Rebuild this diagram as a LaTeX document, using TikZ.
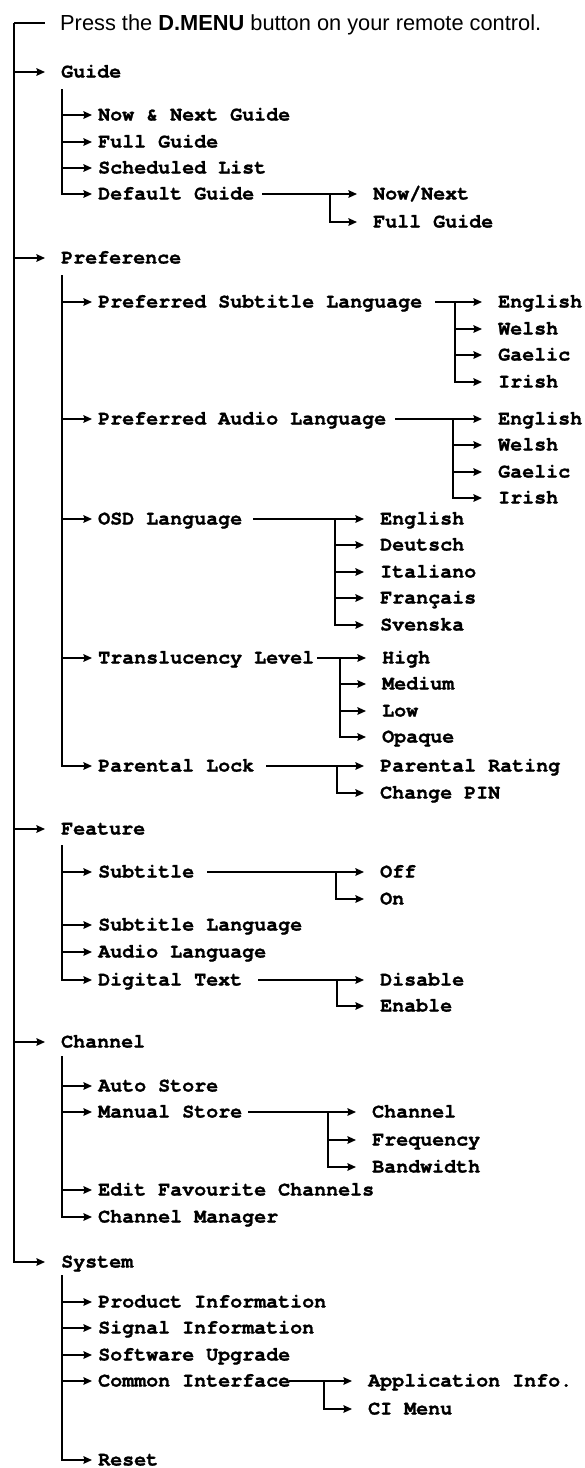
\documentclass[tikz,border=0pt]{standalone}
\usepackage{fontspec}
\setmainfont{Liberation Sans}
\newfontfamily\menufont{texgyrecursor}[Extension=.otf, UprightFont=*-regular, BoldFont=*-bold, Ligatures=NoCommon, BoldFeatures={FakeBold=1.2}]
\usepackage{tikz}
\usetikzlibrary{arrows.meta}

\begin{document}
\begin{tikzpicture}[
  x=1pt, y=-1pt,
  rama/.style={line width=1.8pt},
  flecha/.style={-{Stealth[length=8.5pt,width=7.5pt,inset=1pt]}, line width=1.8pt},
  cab/.style={anchor=west, inner sep=0pt, text height=15pt, text depth=0pt, font=\fontsize{21.8}{24}\selectfont},
  menu/.style={anchor=west, inner ysep=0pt, text height=11pt, text depth=0pt, font=\menufont\bfseries\fontsize{20}{22}\selectfont},
  niv1/.style={menu, inner xsep=16pt},
  niv2/.style={menu, inner xsep=6pt},
  niv3/.style={menu, inner xsep=16pt}
]
  \useasboundingbox (0,0) rectangle (584,1468);

  % cabecera y tronco principal
  \coordinate (t0) at (14,23);
  \node[cab] (cab) at (60,23) {Press the \textbf{D.MENU} button on your remote control.};
  \draw[rama] (t0) -- ([xshift=-15pt]cab.west);

  \node[niv1] (guia) at (45,72) {Guide};
  \node[niv1] (pref) at (45,258) {Preference};
  \node[niv1] (feat) at (45,829) {Feature};
  \node[niv1] (canal) at (45,1042) {Channel};
  \node[niv1] (sist) at (45,1262) {System};
  \draw[flecha] (t0) |- (sist.west);
  \draw[flecha] (t0 |- guia.west) -- (guia.west);
  \draw[flecha] (t0 |- pref.west) -- (pref.west);
  \draw[flecha] (t0 |- feat.west) -- (feat.west);
  \draw[flecha] (t0 |- canal.west) -- (canal.west);

  % Guide
  \coordinate (tguia) at (62,89);
  \node[niv2] (nn) at (92,115) {Now \& Next Guide};
  \node[niv2] (fg) at (92,142) {Full Guide};
  \node[niv2] (sl) at (92,168) {Scheduled List};
  \node[niv2] (dg) at (92,194) {Default Guide};
  \draw[flecha] (tguia) |- (dg.west);
  \draw[flecha] (tguia |- nn.west) -- (nn.west);
  \draw[flecha] (tguia |- fg.west) -- (fg.west);
  \draw[flecha] (tguia |- sl.west) -- (sl.west);

  \coordinate (rdg) at (330,194);
  \node[niv3] (dgnow) at (357,194) {Now/Next};
  \node[niv3] (dgfull) at (357,222) {Full Guide};
  \draw[flecha] ([xshift=2pt]dg.east) -- (dgnow.west);
  \draw[flecha] (rdg) |- (dgfull.west);

  % Preference
  \coordinate (tpref) at (62,275);
  \node[niv2] (psl) at (92,302) {Preferred Subtitle Language};
  \node[niv2] (pal) at (92,419) {Preferred Audio Language};
  \node[niv2] (osd) at (92,519) {OSD Language};
  \node[niv2] (tl) at (92,658) {Translucency Level};
  \node[niv2] (pl) at (92,766) {Parental Lock};
  \draw[flecha] (tpref) |- (pl.west);
  \draw[flecha] (tpref |- psl.west) -- (psl.west);
  \draw[flecha] (tpref |- pal.west) -- (pal.west);
  \draw[flecha] (tpref |- osd.west) -- (osd.west);
  \draw[flecha] (tpref |- tl.west) -- (tl.west);

  \coordinate (rpsl) at (455,302);
  \node[niv3] (pseng) at (482,302) {English};
  \node[niv3] (pswel) at (482,329) {Welsh};
  \node[niv3] (psgae) at (482,355) {Gaelic};
  \node[niv3] (psiri) at (482,382) {Irish};
  \draw[flecha] ([xshift=7pt]psl.east) -- (pseng.west);
  \draw[flecha] (rpsl) |- (psiri.west);
  \draw[flecha] (rpsl |- pswel.west) -- (pswel.west);
  \draw[flecha] (rpsl |- psgae.west) -- (psgae.west);

  \coordinate (rpal) at (453,419);
  \node[niv3] (paeng) at (482,419) {English};
  \node[niv3] (pawel) at (482,445) {Welsh};
  \node[niv3] (pagae) at (482,472) {Gaelic};
  \node[niv3] (pairi) at (482,498) {Irish};
  \draw[flecha] ([xshift=3pt]pal.east) -- (paeng.west);
  \draw[flecha] (rpal) |- (pairi.west);
  \draw[flecha] (rpal |- pawel.west) -- (pawel.west);
  \draw[flecha] (rpal |- pagae.west) -- (pagae.west);

  \coordinate (rosd) at (335,519);
  \node[niv3] (oseng) at (364,519) {English};
  \node[niv3] (osdeu) at (364,545) {Deutsch};
  \node[niv3] (osita) at (364,572) {Italiano};
  \node[niv3] (osfra) at (364,598) {Français};
  \node[niv3] (ossve) at (364,625) {Svenska};
  \draw[flecha] ([xshift=5pt]osd.east) -- (oseng.west);
  \draw[flecha] (rosd) |- (ossve.west);
  \draw[flecha] (rosd |- osdeu.west) -- (osdeu.west);
  \draw[flecha] (rosd |- osita.west) -- (osita.west);
  \draw[flecha] (rosd |- osfra.west) -- (osfra.west);

  \coordinate (rtl) at (340,658);
  \node[niv3] (tlhigh) at (366,658) {High};
  \node[niv3] (tlmed) at (366,684) {Medium};
  \node[niv3] (tllow) at (366,711) {Low};
  \node[niv3] (tlopa) at (366,737) {Opaque};
  \draw[flecha] ([xshift=-3pt]tl.east) -- (tlhigh.west);
  \draw[flecha] (rtl) |- (tlopa.west);
  \draw[flecha] (rtl |- tlmed.west) -- (tlmed.west);
  \draw[flecha] (rtl |- tllow.west) -- (tllow.west);

  \coordinate (rpl) at (337,766);
  \node[niv3] (plrat) at (364,766) {Parental Rating};
  \node[niv3] (plpin) at (364,793) {Change PIN};
  \draw[flecha] ([xshift=6pt]pl.east) -- (plrat.west);
  \draw[flecha] (rpl) |- (plpin.west);

  % Feature
  \coordinate (tfeat) at (62,845);
  \node[niv2] (sub) at (92,872) {Subtitle};
  \node[niv2] (subl) at (92,925) {Subtitle Language};
  \node[niv2] (audl) at (92,952) {Audio Language};
  \node[niv2] (dt) at (92,980) {Digital Text};
  \draw[flecha] (tfeat) |- (dt.west);
  \draw[flecha] (tfeat |- sub.west) -- (sub.west);
  \draw[flecha] (tfeat |- subl.west) -- (subl.west);
  \draw[flecha] (tfeat |- audl.west) -- (audl.west);

  \coordinate (rsub) at (336,872);
  \node[niv3] (suboff) at (364,872) {Off};
  \node[niv3] (subon) at (364,899) {On};
  \draw[flecha] ([xshift=7pt]sub.east) -- (suboff.west);
  \draw[flecha] (rsub) |- (subon.west);

  \coordinate (rdt) at (337,980);
  \node[niv3] (dtdis) at (364,980) {Disable};
  \node[niv3] (dtena) at (364,1006) {Enable};
  \draw[flecha] ([xshift=10pt]dt.east) -- (dtdis.west);
  \draw[flecha] (rdt) |- (dtena.west);

  % Channel
  \coordinate (tcan) at (62,1056);
  \node[niv2] (as) at (92,1086) {Auto Store};
  \node[niv2] (ms) at (92,1112) {Manual Store};
  \node[niv2] (efc) at (92,1190) {Edit Favourite Channels};
  \node[niv2] (cm) at (92,1217) {Channel Manager};
  \draw[flecha] (tcan) |- (cm.west);
  \draw[flecha] (tcan |- as.west) -- (as.west);
  \draw[flecha] (tcan |- ms.west) -- (ms.west);
  \draw[flecha] (tcan |- efc.west) -- (efc.west);

  \coordinate (rms) at (328,1112);
  \node[niv3] (mscha) at (356,1112) {Channel};
  \node[niv3] (msfre) at (356,1140) {Frequency};
  \node[niv3] (msban) at (356,1167) {Bandwidth};
  \draw[flecha] (ms.east) -- (mscha.west);
  \draw[flecha] (rms) |- (msban.west);
  \draw[flecha] (rms |- msfre.west) -- (msfre.west);

  % System
  \coordinate (tsis) at (62,1275);
  \node[niv2] (pinf) at (92,1302) {Product Information};
  \node[niv2] (sinf) at (92,1328) {Signal Information};
  \node[niv2] (swu) at (92,1355) {Software Upgrade};
  \node[niv2] (ci) at (92,1381) {Common Interface};
  \node[niv2] (reset) at (92,1460) {Reset};
  \draw[flecha] (tsis) |- (reset.west);
  \draw[flecha] (tsis |- pinf.west) -- (pinf.west);
  \draw[flecha] (tsis |- sinf.west) -- (sinf.west);
  \draw[flecha] (tsis |- swu.west) -- (swu.west);
  \draw[flecha] (tsis |- ci.west) -- (ci.west);

  \coordinate (rci) at (324,1381);
  \node[niv3] (ciapp) at (352,1381) {Application Info.};
  \node[niv3] (cimenu) at (352,1409) {CI Menu};
  \draw[flecha] ([xshift=-7pt]ci.east) -- (ciapp.west);
  \draw[flecha] (rci) |- (cimenu.west);
\end{tikzpicture}
\end{document}
